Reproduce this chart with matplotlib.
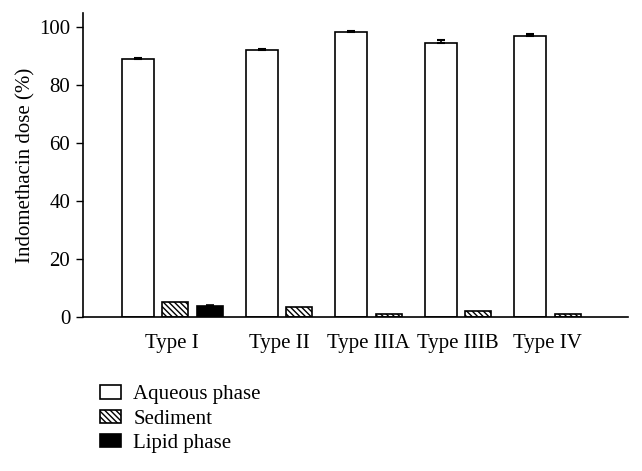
import matplotlib.pyplot as plt
from matplotlib.patches import Patch

# datos
tipos = ['Type I', 'Type II', 'Type IIIA', 'Type IIIB', 'Type IV']
acuosa = [89.0, 92.0, 98.2, 94.6, 96.8]
acuosa_err = [0.5, 0.5, 0.5, 1.0, 0.8]
sedimento = [5.2, 3.3, 1.2, 2.2, 1.2]
lipido = [3.8]          # solo Type I
lipido_err = [0.3]

plt.rcParams['font.family'] = ['Liberation Serif', 'DejaVu Serif']
plt.rcParams['font.size'] = 15
plt.rcParams['hatch.linewidth'] = 1.0

fig = plt.figure(figsize=(6.42, 4.71), dpi=100)
ax = fig.add_axes([0.129, 0.327, 0.849, 0.645])

# geometria de las barras (en "pixeles" del eje)
w_acu = 32
w_otro = 26
hueco = 8.5
hueco_grupo = 23
inicio = 39
rayado = '\\' * 6

x = inicio
centros = []
for i, t in enumerate(tipos):
    x0 = x
    ax.bar(x, acuosa[i], width=w_acu, align='edge', color='white',
           edgecolor='black', linewidth=1.2)
    ax.errorbar(x + w_acu / 2, acuosa[i], yerr=[[0], [acuosa_err[i]]],
                fmt='none', ecolor='black', elinewidth=1.2, capsize=3, capthick=1.5)
    x += w_acu + hueco
    ax.bar(x, sedimento[i], width=w_otro, align='edge', color='white',
           edgecolor='black', linewidth=1.2, hatch=rayado)
    x += w_otro
    if i < len(lipido):
        x += hueco
        ax.bar(x, lipido[i], width=w_otro, align='edge', color='black',
               edgecolor='black', linewidth=1.2)
        ax.errorbar(x + w_otro / 2, lipido[i], yerr=[[0], [lipido_err[i]]],
                    fmt='none', ecolor='black', elinewidth=1.2, capsize=3, capthick=1.2)
        x += w_otro
    centros.append((x0 + x) / 2)
    x += hueco_grupo

ax.set_xlim(0, 545)
ax.set_ylim(0, 104.8)
ax.set_xticks(centros)
ax.set_xticklabels(tipos)
ax.tick_params(axis='x', length=0, pad=12)
ax.set_yticks([0, 20, 40, 60, 80, 100])
ax.tick_params(axis='y', length=5, width=1, direction='out', pad=4)
ax.spines['top'].set_visible(False)
ax.spines['right'].set_visible(False)
for s in ['left', 'bottom']:
    ax.spines[s].set_linewidth(1.2)
ax.set_ylabel('Indomethacin dose (%)', labelpad=3)

handles = [
    Patch(facecolor='white', edgecolor='black', linewidth=1.2, label='Aqueous phase'),
    Patch(facecolor='white', edgecolor='black', linewidth=1.2, hatch=rayado, label='Sediment'),
    Patch(facecolor='black', edgecolor='black', linewidth=1.2, label='Lipid phase'),
]
fig.legend(handles=handles, loc='upper left', bbox_to_anchor=(0.156, 0.182),
           frameon=False, handlelength=1.0, handleheight=0.6, handletextpad=0.6,
           labelspacing=0.26, borderpad=0, borderaxespad=0)

fig.savefig('out.png', dpi=100)
